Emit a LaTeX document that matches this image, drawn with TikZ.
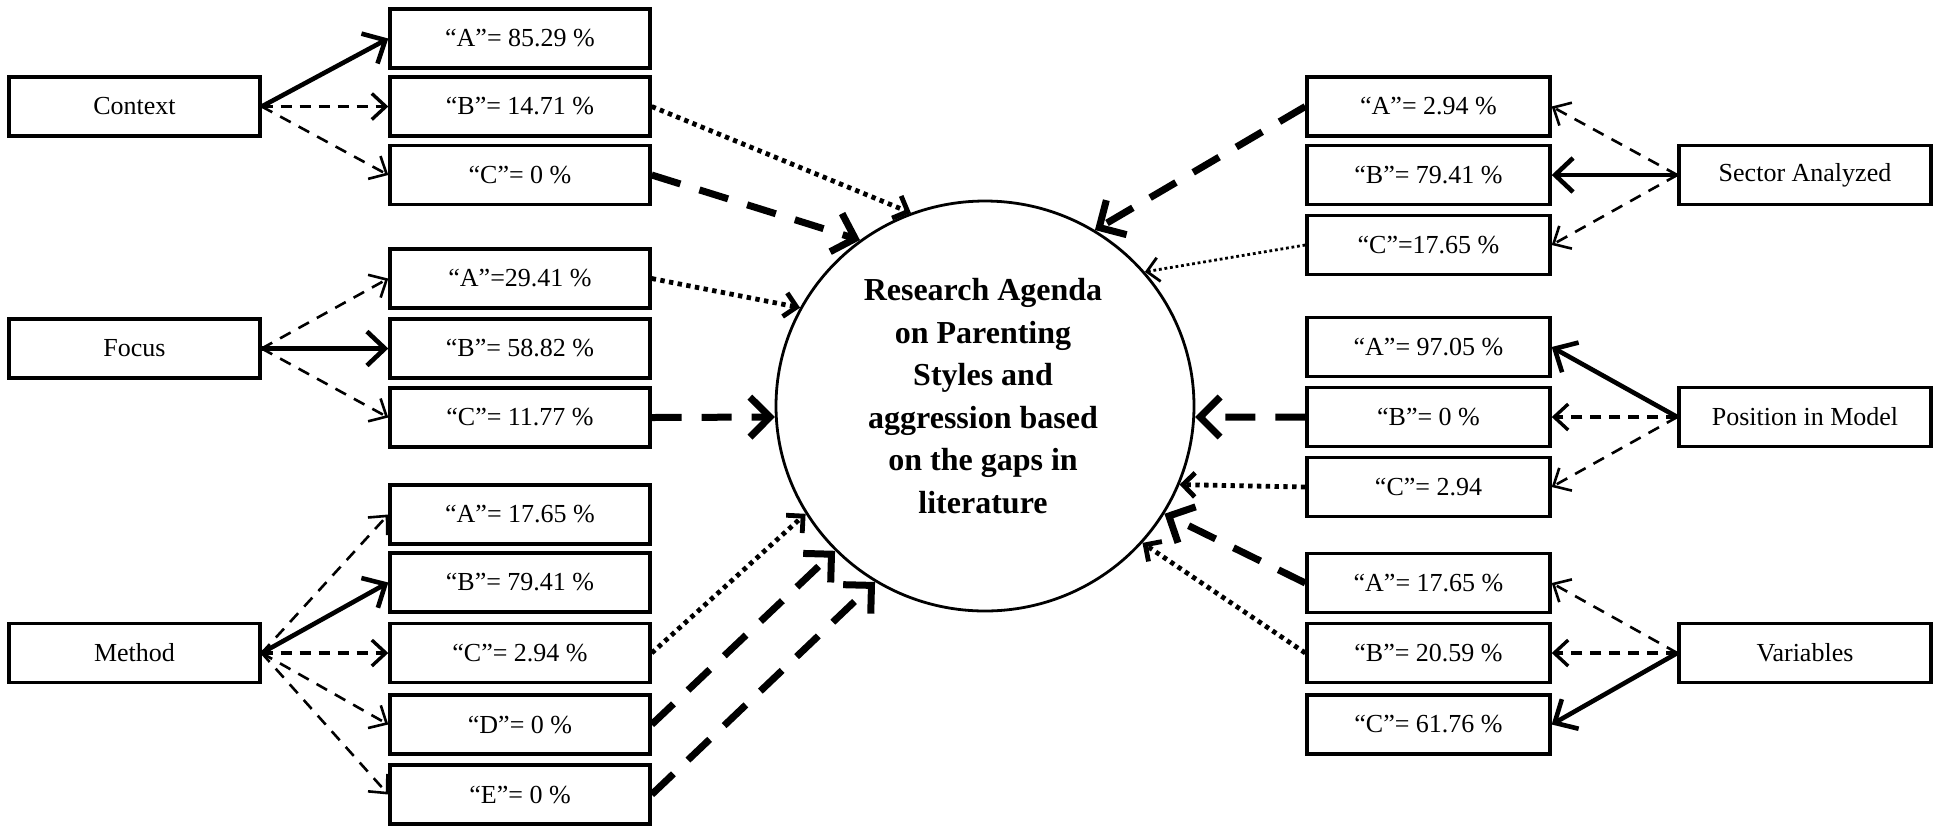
\documentclass[tikz,border=0pt]{standalone}
\usepackage{fontspec}
\setmainfont{Liberation Serif}
\usetikzlibrary{arrows.meta,shapes.geometric}
\begin{document}
\begin{tikzpicture}[x=0.5pt,y=-0.5pt,
  box/.style={draw, line width=1.7pt, minimum height=29.5pt, inner sep=0pt, font=\fontsize{13}{15}\selectfont},
  lbox/.style={box, minimum width=125.5pt},
  mbox/.style={box, minimum width=130pt},
  rbox/.style={box, minimum width=121.5pt},
  rlbox/.style={box, minimum width=126pt},
  solidarr/.style={line width=2.3pt, -{Straight Barb[length=9pt,width=17pt]}},
  dasharr/.style={line width=1.7pt, dash pattern=on 5.5pt off 4pt, -{Straight Barb[length=7pt,width=13pt]}},
  thinarr/.style={line width=1.3pt, dash pattern=on 6pt off 4.5pt, -{Straight Barb[length=7pt,width=13pt]}},
  bigarr/.style={line width=3.5pt, dash pattern=on 15pt off 10pt, -{Straight Barb[length=10pt,width=20pt]}},
  dotarr/.style={line width=2.4pt, dash pattern=on 2.2pt off 2.2pt, -{Straight Barb[length=6pt,width=12pt]}},
  dotthinarr/.style={line width=1.4pt, dash pattern=on 1.4pt off 1.4pt, -{Straight Barb[length=6pt,width=12pt]}},
]
\useasboundingbox (0,0) rectangle (1939,827);

% centre circle
\node[draw, ellipse, line width=1.4pt, minimum width=209pt, minimum height=205pt, inner sep=0pt] (circ) at (985,406) {};
\node[align=center, inner sep=0pt, font=\bfseries\fontsize{16}{21.3}\selectfont] (circtext) at (983,396)
  {Research Agenda\\on Parenting\\Styles and\\aggression based\\on the gaps in\\literature};

% left labels
\node[lbox] (ctx) at (134.5,106.5) {Context};
\node[lbox] (foc) at (134.5,348.5) {Focus};
\node[lbox] (met) at (134.5,653) {Method};

% left middle boxes
\node[mbox] (ctxA) at (520,38.5) {“A”= 85.29 \%};
\node[mbox] (ctxB) at (520,106.5) {“B”= 14.71 \%};
\node[mbox] (ctxC) at (520,175) {“C”= 0 \%};
\node[mbox] (focA) at (520,278.5) {“A”=29.41 \%};
\node[mbox] (focB) at (520,348.5) {“B”= 58.82 \%};
\node[mbox] (focC) at (520,417.5) {“C”= 11.77 \%};
\node[mbox] (metA) at (520,514.5) {“A”= 17.65 \%};
\node[mbox] (metB) at (520,582.5) {“B”= 79.41 \%};
\node[mbox] (metC) at (520,653) {“C”= 2.94 \%};
\node[mbox] (metD) at (520,724.5) {“D”= 0 \%};
\node[mbox] (metE) at (520,794.5) {“E”= 0 \%};

% right middle boxes
\node[rbox] (secA) at (1428.5,106.5) {“A”= 2.94 \%};
\node[rbox] (secB) at (1428.5,175) {“B”= 79.41 \%};
\node[rbox] (secC) at (1428.5,245) {“C”=17.65 \%};
\node[rbox] (posA) at (1428.5,347) {“A”= 97.05 \%};
\node[rbox] (posB) at (1428.5,417) {“B”= 0 \%};
\node[rbox] (posC) at (1428.5,487) {“C”= 2.94};
\node[rbox] (varA) at (1428.5,583) {“A”= 17.65 \%};
\node[rbox] (varB) at (1428.5,653) {“B”= 20.59 \%};
\node[rbox] (varC) at (1428.5,724.5) {“C”= 61.76 \%};

% right labels
\node[rlbox] (sec) at (1805,175) {Sector Analyzed};
\node[rlbox] (pos) at (1805,417) {Position in Model};
\node[rlbox] (var) at (1805,653) {Variables};

% left fan-outs
\draw[solidarr] (ctx.east) -- (ctxA.west);
\draw[dasharr] (ctx.east) -- (ctxB.west);
\draw[thinarr] (ctx.east) -- (ctxC.west);
\draw[thinarr] (foc.east) -- (focA.west);
\draw[solidarr] (foc.east) -- (focB.west);
\draw[thinarr] (foc.east) -- (focC.west);
\draw[thinarr] (met.east) -- (metA.west);
\draw[solidarr] (met.east) -- (metB.west);
\draw[dasharr] (met.east) -- (metC.west);
\draw[thinarr] (met.east) -- (metD.west);
\draw[thinarr] (met.east) -- (metE.west);

% right fan-outs
\draw[thinarr] (sec.west) -- (secA.east);
\draw[solidarr] (sec.west) -- (secB.east);
\draw[thinarr] (sec.west) -- (secC.east);
\draw[solidarr] (pos.west) -- (posA.east);
\draw[dasharr] (pos.west) -- (posB.east);
\draw[thinarr] (pos.west) -- (posC.east);
\draw[thinarr] (var.west) -- (varA.east);
\draw[dasharr] (var.west) -- (varB.east);
\draw[solidarr] (var.west) -- (varC.east);

% into the circle
\draw[dotarr] (ctxB.east) -- (circ.111.7);
\draw[bigarr] (ctxC.east) -- (circ.127.4);
\draw[dotarr] (focA.east) -- (circ.152.1);
\draw[bigarr] (focC.east) -- (circ.183);
\draw[dotarr] (metC.east) -- (circ.211.1);
\draw[bigarr] (metD.east) -- (circ.224.2);
\draw[bigarr] (metE.east) -- (circ.238.1);
\draw[bigarr] (secA.west) -- (circ.58.8);
\draw[dotthinarr] (secC.west) -- (circ.40.1);
\draw[bigarr] (posB.west) -- (circ.-3);
\draw[dotarr] (posC.west) -- (circ.-22.8);
\draw[bigarr] (varA.west) -- (circ.-31.9);
\draw[dotarr] (varB.west) -- (circ.-41.1);
\end{tikzpicture}
\end{document}
